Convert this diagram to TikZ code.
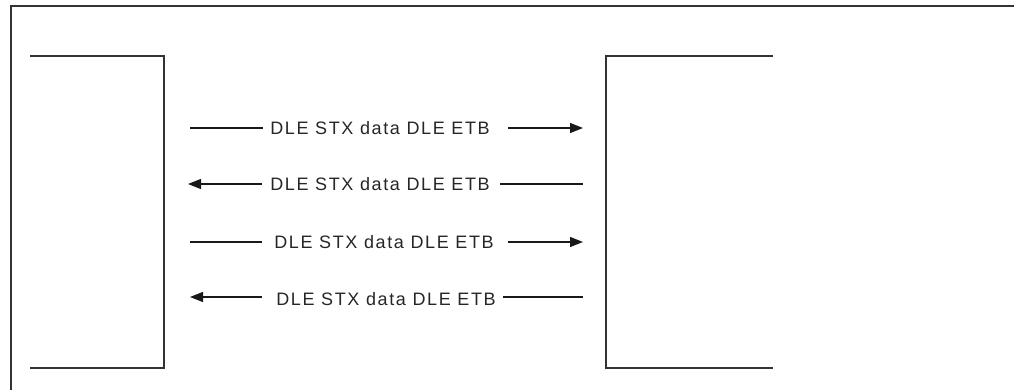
\documentclass[tikz,border=0pt]{standalone}
\usepackage{fontspec}
\setmainfont{Liberation Sans}[LetterSpace=9]
\usetikzlibrary{arrows.meta}
\begin{document}
\begin{tikzpicture}[x=1pt,y=-1pt,
  frame/.style={draw=black!80,line width=1.7pt},
  bracket/.style={draw=black!80,line width=1.7pt},
  msg/.style={font=\fontsize{18}{20}\selectfont,text=black!85,inner sep=0pt},
  conn/.style={draw=black!90,line width=1.3pt},
  tip/.style={-{Triangle[length=13pt,width=10pt]}}]
\useasboundingbox (0,0) rectangle (1014,390);
% outer frame (top and left only)
\coordinate (fa) at (11,390);
\coordinate (fb) at (11,6);
\coordinate (fc) at (1014,6);
\draw[frame] (fa) -- (fb) -- (fc);
% left station
\coordinate (la) at (30,56);
\coordinate (lb) at (164,56);
\coordinate (lc) at (164,368);
\coordinate (ld) at (30,368);
\draw[bracket] (la) -- (lb) -- (lc) -- (ld);
% right station
\coordinate (ra) at (773,56);
\coordinate (rb) at (606,56);
\coordinate (rc) at (606,368);
\coordinate (rd) at (773,368);
\draw[bracket] (ra) -- (rb) -- (rc) -- (rd);
% messages
\node[msg] (m1) at (380,128) {DLE STX data DLE ETB};
\node[msg] (m2) at (380,184) {DLE STX data DLE ETB};
\node[msg] (m3) at (384,242) {DLE STX data DLE ETB};
\node[msg] (m4) at (386,299) {DLE STX data DLE ETB};
\coordinate (a1l) at (190,128); \coordinate (a1r) at (583,128);
\coordinate (a2l) at (188,184); \coordinate (a2r) at (583,184);
\coordinate (a3l) at (190,242); \coordinate (a3r) at (583,242);
\coordinate (a4l) at (190,297); \coordinate (a4r) at (583,297);
\draw[conn] (a1l) -- (263,128);
\draw[conn,tip] (508,128) -- (a1r);
\draw[conn,tip] (262,184) -- (a2l);
\draw[conn] (500,184) -- (a2r);
\draw[conn] (a3l) -- (262,242);
\draw[conn,tip] (508,242) -- (a3r);
\draw[conn,tip] (262,297) -- (a4l);
\draw[conn] (503,297) -- (a4r);
\end{tikzpicture}
\end{document}
